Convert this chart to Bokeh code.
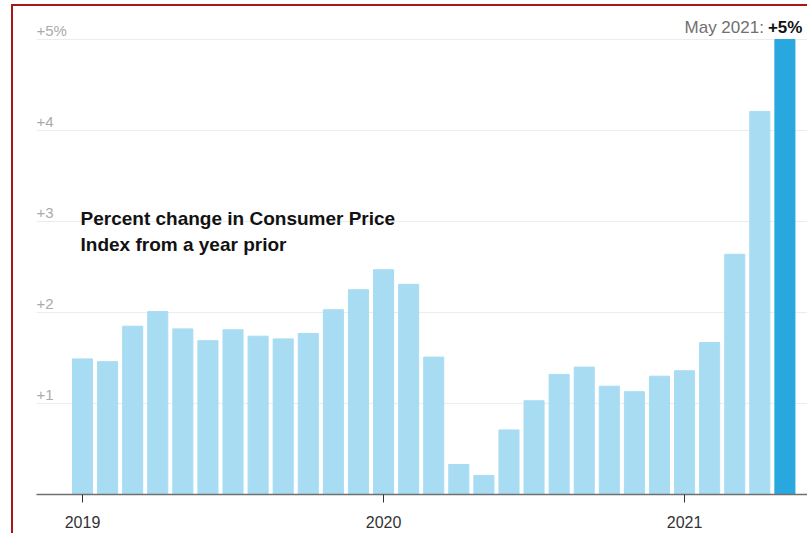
from bokeh.plotting import figure
from bokeh.models import FixedTicker, ColumnDataSource, Range1d
from bokeh.core.properties import value
from bokeh.embed import file_html
from bokeh.resources import INLINE

months = ["Jan 2019", "Feb 2019", "Mar 2019", "Apr 2019", "May 2019", "Jun 2019",
          "Jul 2019", "Aug 2019", "Sep 2019", "Oct 2019", "Nov 2019", "Dec 2019",
          "Jan 2020", "Feb 2020", "Mar 2020", "Apr 2020", "May 2020", "Jun 2020",
          "Jul 2020", "Aug 2020", "Sep 2020", "Oct 2020", "Nov 2020", "Dec 2020",
          "Jan 2021", "Feb 2021", "Mar 2021", "Apr 2021", "May 2021"]
cpi_change = [1.49, 1.46, 1.85, 2.01, 1.82, 1.69, 1.81, 1.74, 1.71, 1.77, 2.03, 2.25,
              2.47, 2.31, 1.51, 0.33, 0.21, 0.71, 1.03, 1.32, 1.40, 1.19, 1.13, 1.30,
              1.36, 1.67, 2.64, 4.21, 5.00]
y_ticks = [1, 2, 3, 4, 5]
y_tick_labels = ["+1", "+2", "+3", "+4", "+5%"]
year_labels = ["2019", "2020", "2021"]
title_lines = ["Percent change in Consumer Price", "Index from a year prior"]

FONT = "Liberation Sans"
x = list(range(len(months)))
colors = ["#a8dcf2"] * (len(months) - 1) + ["#29a8e0"]

src = ColumnDataSource(dict(x=x, top=cpi_change, color=colors, label=months))

p = figure(width=796, height=529, output_backend="svg", toolbar_location=None,
           x_range=Range1d(-1.834, 28.98), y_range=Range1d(0, 5.363),
           min_border_left=23, min_border_right=0, min_border_top=0, min_border_bottom=41)
p.styles = {"margin-left": "11px", "margin-top": "4px",
            "border-left": "2px solid #a51818", "border-top": "2px solid #a51818"}
p.outline_line_color = None
p.background_fill_color = "white"
p.border_fill_color = "white"

p.vbar(x="x", top="top", bottom=0, width=0.8, color="color", source=src)

# y grid
p.ygrid.ticker = FixedTicker(ticks=y_ticks)
p.ygrid.grid_line_color = "#ececec"
p.ygrid.grid_line_width = 1
p.xgrid.visible = False
p.yaxis.visible = False

# x axis
year_ticks = [i for i, m in enumerate(months) if m.startswith("Jan")]
p.xaxis.ticker = FixedTicker(ticks=year_ticks)
p.xaxis.major_label_overrides = {t: lab for t, lab in zip(year_ticks, year_labels)}
p.xaxis.axis_line_color = "#707070"
p.xaxis.axis_line_width = 1.5
p.xaxis.major_tick_line_color = "#333333"
p.xaxis.major_tick_out = 8
p.xaxis.major_tick_in = 0
p.xaxis.minor_tick_line_color = None
p.xaxis.major_label_text_font = FONT
p.xaxis.major_label_text_font_size = "16px"
p.xaxis.major_label_text_color = "#333333"
p.xaxis.major_label_standoff = 13

# y tick labels inside the plot
p.text(x=[p.x_range.start] * len(y_ticks), y=y_ticks, text=y_tick_labels,
       text_font=value(FONT), text_font_size="15px", text_color="#aaaaaa",
       text_align="left", text_baseline="alphabetic", y_offset=-9)

# annotation
p.text(x=[0, 0], y=[3, 3], text=title_lines,
       text_font=value(FONT), text_font_style="bold", text_font_size="19px",
       text_color="#121212", text_align="left", text_baseline="alphabetic",
       x_offset=-2, y_offset=[-3, 23])

# last value label
last = len(months) - 1
p.text(x=[last], y=[cpi_change[last]], text=["+5%"], text_font=value(FONT),
       text_font_style="bold", text_font_size="17px", text_color="#121212",
       text_align="right", text_baseline="alphabetic", x_offset=17.5, y_offset=-12)
p.text(x=[last], y=[cpi_change[last]], text=[months[last] + ":"], text_font=value(FONT),
       text_font_size="17px", text_color="#707070",
       text_align="right", text_baseline="alphabetic", x_offset=-21, y_offset=-12)

open("out.html", "w").write(file_html(p, INLINE))
